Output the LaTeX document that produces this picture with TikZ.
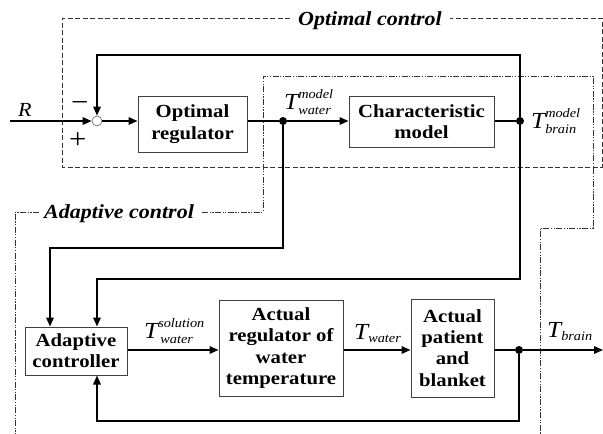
\documentclass[tikz,border=0pt]{standalone}
\usepackage{fontspec}
\setmainfont{Liberation Serif}[FakeStretch=1.1]
\newfontfamily\bxf{Liberation Serif Bold}[FakeStretch=1.12]
\usetikzlibrary{arrows.meta,calc}
\newcommand\boxfnt{\bxf\fontsize{18.5}{21.3}\selectfont}
\newcommand\tfnt{\fontsize{23}{26}\selectfont\itshape}
\newcommand\sfnt{\fontsize{13}{15.5}\selectfont\itshape}
\newcommand\Tsupsub[2]{{\tfnt T}\raisebox{-5pt}{\sfnt\begin{tabular}[b]{@{}l@{}}#1\\[0pt]#2\end{tabular}}}
\newcommand\Tsub[1]{{\tfnt T}\raisebox{-3pt}{\sfnt #1}}
\tikzset{
  blk/.style={draw=black!75, line width=1pt, fill=white, align=center, font=\boxfnt, inner sep=0pt},
  conn/.style={line width=1.6pt, draw=black},
  arr/.style={conn, -{Triangle[length=9pt,width=7.5pt]}},
  dotn/.style={circle, fill=black, inner sep=0pt, minimum size=8pt},
  optbox/.style={line width=0.9pt, draw=black!80, dash pattern=on 5pt off 2.5pt},
  adbox/.style={line width=0.9pt, draw=black!80, dash pattern=on 6pt off 1.5pt on 1.2pt off 1.5pt on 1.2pt off 1.5pt},
  grp/.style={font=\fontsize{20}{24}\selectfont\bfseries\itshape, inner sep=0pt, anchor=base west},
  lbl/.style={inner sep=0pt, anchor=base west}
}
\begin{document}
\begin{tikzpicture}[x=1pt,y=-1pt]
\useasboundingbox (0,0) rectangle (603,434);
% group labels
\node[grp] (optlbl) at (298,25) {Optimal control};
\node[grp] (adlbl) at (44,218) {Adaptive control};
% optimal control dashed frame
\draw[optbox] ([xshift=-8pt]optlbl.west |- 0,18) -- (62,18) -- (62,167) -- (602,167) -- (602,18) -- ([xshift=8pt]optlbl.east |- 0,18);
% adaptive control dash-dot frame
\draw[adbox] ([xshift=8pt]adlbl.east |- 0,212) -- (263,212) -- (263,76) -- (593,76) -- (593,228) -- (540,228) -- (540,434);
\draw[adbox] ([xshift=-5pt]adlbl.west |- 0,212) -- (15,212) -- (15,434);
% blocks
\node[blk, minimum width=109pt, minimum height=56pt] (reg) at (192.5,124) {Optimal\\regulator};
\node[blk, minimum width=145pt, minimum height=51pt] (char) at (421.5,121.5) {Characteristic\\model};
\node[blk, minimum width=102pt, minimum height=48pt] (ctrl) at (76,351) {Adaptive\\controller};
\node[blk, minimum width=124pt, minimum height=96pt] (areg) at (281,348) {Actual\\regulator of\\water\\temperature};
\node[blk, minimum width=83pt, minimum height=98pt] (pat) at (452.5,348) {Actual\\patient\\and\\blanket};
% summing junction
\node[circle, draw=black!55, fill=white, line width=0.7pt, minimum size=10pt, inner sep=0pt] (sum) at (97,121) {};
\coordinate (rin) at (10,121);
\node[lbl, font=\fontsize{20}{22}\selectfont\itshape] (R) at (18,116) {R};
\node[lbl, font=\fontsize{28}{30}\selectfont] (minus) at (71,111) {−};
\node[lbl, font=\fontsize{28}{30}\selectfont] (plus) at (69,148) {+};
% dots
\node[dotn] (d1) at (283,121) {};
\node[dotn] (d2) at (520,121) {};
\node[dotn] (d3) at (519,350) {};
\coordinate (out) at (603,350);
% signal labels
\node[lbl] (ltwm) at (284,109) {\Tsupsub{model}{water}};
\node[lbl] (ltbm) at (531,128) {\Tsupsub{model}{brain}};
\node[lbl] (ltws) at (144,338) {\Tsupsub{solution}{\,water}};
\node[lbl] (ltw) at (354,339) {\Tsub{water}};
\node[lbl] (ltb) at (547,337) {\Tsub{brain}};
% connectors
\draw[arr] (rin) -- (sum.west);
\draw[arr] (sum.east) -- (reg.west |- sum);
\draw[conn] (reg.east |- d1) -- (d1);
\draw[arr] (d1) -- (char.west |- d1);
\draw[conn] (char.east |- d2) -- (d2);
\draw[arr] (d2) -- (520,55) -| (sum.north);
\draw[arr] (d2) -- (520,279) -| (ctrl.north -| 97,0);
\draw[arr] (d1) -- (283,248) -| (ctrl.north -| 50,0);
\draw[arr] (ctrl.east |- 0,350) -- (areg.west |- 0,350);
\draw[arr] (areg.east |- 0,350) -- (pat.west |- 0,350);
\draw[conn] (pat.east |- d3) -- (d3);
\draw[arr] (d3) -- (out);
\draw[arr] (d3) -- (519,421) -| (ctrl.south -| 97,0);
\end{tikzpicture}
\end{document}
